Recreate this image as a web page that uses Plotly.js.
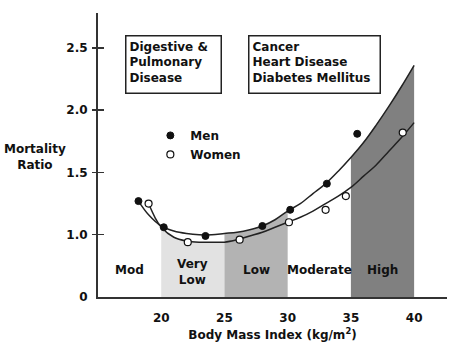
<!DOCTYPE html>
<html>
<head>
<meta charset="utf-8">
<script src="https://cdn.plot.ly/plotly-3.0.1.min.js"></script>
<style>html,body{margin:0;padding:0;background:#fff;}#chart{width:474px;height:344px;}</style>
</head>
<body>
<div id="chart"></div>
<script>
// ---- data ----
var menPointsX   = [18.2, 20.2, 23.5, 28.0, 30.2, 33.1, 35.5];
var menPointsY   = [1.27, 1.06, 0.99, 1.07, 1.20, 1.41, 1.81];
var womenPointsX = [19.0, 22.1, 26.2, 30.1, 33.0, 34.6, 39.1];
var womenPointsY = [1.25, 0.94, 0.96, 1.10, 1.20, 1.31, 1.82];

var menCurveX = [18.2, 19, 20, 21, 22, 23, 24, 25, 26, 27, 28, 29, 30, 31, 32, 33, 34, 35, 36, 37, 38, 39, 40];
var menCurveY = [1.27, 1.16, 1.07, 1.03, 1.01, 1.00, 1.00, 1.01, 1.02, 1.04, 1.07, 1.12, 1.19, 1.25, 1.33, 1.41, 1.51, 1.62, 1.74, 1.88, 2.03, 2.19, 2.36];
var womenCurveX = [19, 19.5, 20, 21, 22, 23, 24, 25, 26, 27, 28, 29, 30, 31, 32, 33, 34, 35, 36, 37, 38, 39, 40];
var womenCurveY = [1.25, 1.14, 1.06, 0.98, 0.95, 0.94, 0.94, 0.94, 0.96, 0.99, 1.02, 1.06, 1.10, 1.14, 1.19, 1.25, 1.31, 1.38, 1.47, 1.56, 1.67, 1.78, 1.90];

var bandLabels = ['Mod', 'Very<br>Low', 'Low', 'Moderate', 'High'];
var bandStart  = [15, 20, 25, 30, 35];
var bandEnd    = [20, 25, 30, 35, 40];
var bandColors = [null, '#e2e2e2', '#b3b3b3', null, '#808080'];
var bandCurve  = [null, 'women', 'men', null, 'men'];

var yTickVals = [0.5, 1.0, 1.5, 2.0, 2.5];
var yTickText = ['0', '1.0', '1.5', '2.0', '2.5'];
var xTickVals = [20, 25, 30, 35, 40];
var yBase = 0.5;

var boxTexts = ['Digestive &<br>Pulmonary<br>Disease', 'Cancer<br>Heart Disease<br>Diabetes Mellitus'];

// ---- build traces ----
var FONT = 'DejaVu Sans, Verdana, sans-serif';
var ink = '#222';
var traces = [];

for (var i = 0; i < bandLabels.length; i++) {
  if (!bandColors[i]) continue;
  var cx = bandCurve[i] === 'men' ? menCurveX : womenCurveX;
  var cy = bandCurve[i] === 'men' ? menCurveY : womenCurveY;
  var px = [bandStart[i]], py = [yBase];
  for (var j = 0; j < cx.length; j++) {
    if (cx[j] >= bandStart[i] && cx[j] <= bandEnd[i]) { px.push(cx[j]); py.push(cy[j]); }
  }
  px.push(bandEnd[i]); py.push(yBase);
  traces.push({x: px, y: py, type: 'scatter', mode: 'lines', fill: 'toself',
    fillcolor: bandColors[i], line: {width: 0, color: bandColors[i]}, hoverinfo: 'skip', showlegend: false});
}

traces.push({x: menCurveX, y: menCurveY, type: 'scatter', mode: 'lines',
  line: {color: ink, width: 1.5, shape: 'spline'}, showlegend: false});
traces.push({x: womenCurveX, y: womenCurveY, type: 'scatter', mode: 'lines',
  line: {color: ink, width: 1.5, shape: 'spline'}, showlegend: false});
traces.push({x: menPointsX, y: menPointsY, type: 'scatter', mode: 'markers', name: 'Men',
  marker: {symbol: 'circle', size: 7, color: '#111', line: {color: '#111', width: 1}}});
traces.push({x: womenPointsX, y: womenPointsY, type: 'scatter', mode: 'markers', name: 'Women',
  marker: {symbol: 'circle', size: 7, color: '#fff', line: {color: '#111', width: 1.2}}});
// empty traces so the two tick-only overlay axes get drawn
traces.push({x: [], y: [], yaxis: 'y2', type: 'scatter', mode: 'markers', showlegend: false, hoverinfo: 'skip'});
traces.push({x: [], y: [], yaxis: 'y3', type: 'scatter', mode: 'markers', showlegend: false, hoverinfo: 'skip'});

// ---- annotations ----
var annotations = [];
for (var k = 0; k < bandLabels.length; k++) {
  annotations.push({x: (bandStart[k] + bandEnd[k]) / 2, y: k === 1 ? 0.70 : 0.716, xref: 'x', yref: 'y',
    text: bandLabels[k], showarrow: false, xanchor: 'center', yanchor: 'middle',
    font: {family: FONT, size: 12, color: '#111', weight: 'bold'}});
}
annotations.push({x: 0.0774, y: 0.9225, xref: 'paper', yref: 'paper', xanchor: 'left', yanchor: 'top',
  text: boxTexts[0], showarrow: false, align: 'left', valign: 'top', width: 88, height: 50,
  bordercolor: ink, borderwidth: 1.5, borderpad: 3, bgcolor: '#fff',
  font: {family: FONT, size: 12, color: '#111', weight: 'bold'}});
annotations.push({x: 0.4298, y: 0.9225, xref: 'paper', yref: 'paper', xanchor: 'left', yanchor: 'top',
  text: boxTexts[1], showarrow: false, align: 'left', valign: 'top', width: 124, height: 50,
  bordercolor: ink, borderwidth: 1.5, borderpad: 3, bgcolor: '#fff',
  font: {family: FONT, size: 12, color: '#111', weight: 'bold'}});
annotations.push({x: -0.18, y: 0.493, xref: 'paper', yref: 'paper', xanchor: 'center', yanchor: 'middle',
  text: 'Mortality<br>Ratio', showarrow: false, align: 'center',
  font: {family: FONT, size: 12, color: '#111', weight: 'bold'}});

var yRange = [0.5, 2.78];
var layout = {
  width: 474, height: 344,
  margin: {l: 98, r: 27, t: 13, b: 47},
  paper_bgcolor: '#fff', plot_bgcolor: '#fff',
  showlegend: true,
  legend: {x: 0.15, y: 0.62, xanchor: 'left', yanchor: 'top', bgcolor: 'rgba(0,0,0,0)',
    font: {family: FONT, size: 12, color: '#111', weight: 'bold'}, itemwidth: 30, tracegroupgap: 0},
  xaxis: {range: [15, 42.6], tickvals: xTickVals, ticks: '', showgrid: false, zeroline: false,
    showline: true, linecolor: '#333', linewidth: 2, ticklabelstandoff: 9,
    tickfont: {family: FONT, size: 12, color: '#111', weight: 'bold'},
    title: {text: 'Body Mass Index (kg/m<sup>2</sup>)', standoff: 6,
      font: {family: FONT, size: 12, color: '#111', weight: 'bold'}}},
  yaxis: {range: yRange, tickvals: yTickVals, ticktext: yTickText, ticks: '', showgrid: false, zeroline: false,
    showline: true, linecolor: '#333', linewidth: 2, ticklabelstandoff: 6,
    tickfont: {family: FONT, size: 12, color: '#111', weight: 'bold'}},
  yaxis2: {range: yRange, overlaying: 'y', side: 'left', tickvals: yTickVals.slice(1), ticks: 'outside', ticklen: 5,
    tickwidth: 1.5, tickcolor: '#333', showticklabels: false, showgrid: false, zeroline: false, showline: false},
  yaxis3: {range: yRange, overlaying: 'y', side: 'left', tickvals: yTickVals.slice(1), ticks: 'inside', ticklen: 6,
    tickwidth: 1.5, tickcolor: '#333', showticklabels: false, showgrid: false, zeroline: false, showline: false},
  annotations: annotations
};

Plotly.newPlot('chart', traces, layout, {displayModeBar: false, staticPlot: true});
</script>
</body>
</html>
